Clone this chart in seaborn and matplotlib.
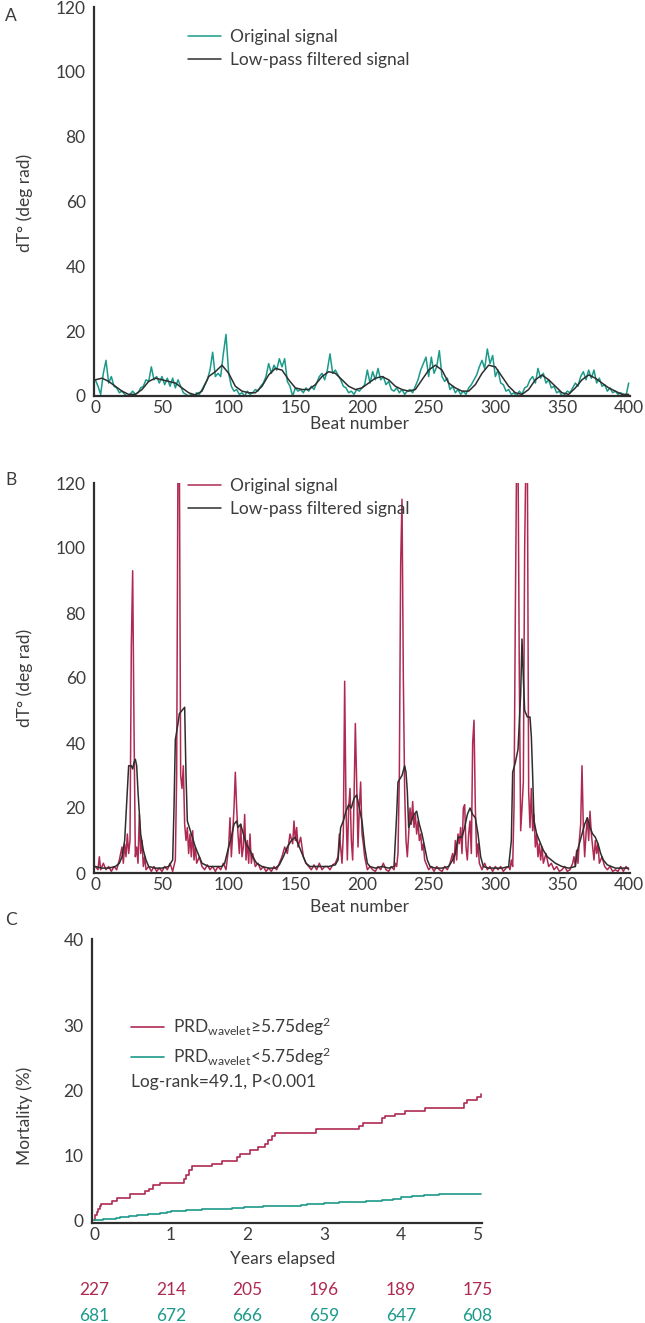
import matplotlib
matplotlib.use('Agg')
import numpy as np
import pandas as pd
import seaborn as sns
import matplotlib.pyplot as plt
from matplotlib.transforms import blended_transform_factory

# ---- panel A : original + low-pass signal (beats every 2 / every 5)
a_beats = np.arange(0, 401, 2)
a_orig = [5, 3, 0.5, 7, 11, 4, 6, 3, 2.5, 1, 1.5, 0.5, 0, 0.5, 1.5, 0.5, 1, 2.5, 3, 5,
          4.5, 9, 5, 6, 4, 6, 3.5, 5.5, 3, 5.5, 2.5, 5, 3, 1, 0.5, 0, 0.5, 0, 1, 0.5,
          2, 3.5, 5, 8, 13.5, 6, 7, 6, 13, 19, 7, 3, 1.5, 2, 0.5, 1, 0, 1.5, 0.5, 1,
          2, 1.5, 3, 4, 6, 10, 7, 9.5, 8, 11.5, 9, 11.5, 4.5, 3, 0, 2.5, 1.5, 2, 1, 2.5,
          1.5, 3, 2, 4, 6, 7, 5, 8, 13, 7, 8, 6.5, 5, 3, 2.5, 1, 1.5, 0.5, 2, 1.5,
          2.5, 3.5, 8, 4, 7.5, 5, 8.5, 5, 6, 3.5, 4.5, 2, 1.5, 2.5, 1, 2, 0.5, 1.5, 2, 1,
          3, 5, 8, 10, 12, 6, 12, 7, 9, 14, 6, 4.5, 5.5, 2, 3, 1, 2, 0.5, 1.5, 0.5,
          2.5, 3.5, 5, 6.5, 9, 11, 8.5, 14.5, 10, 12.5, 6, 8, 4, 3.5, 1.5, 2, 0.5, 1, 0, 1.5,
          0.5, 2.5, 3, 5, 6, 4, 8.5, 5.5, 7, 4, 5, 2.5, 3, 1, 1.5, 0, 0.5, 1.5, 1, 2.5,
          4, 3, 6, 7.5, 5, 8, 5.5, 8, 4, 5.5, 3, 3.5, 1.5, 2.5, 1, 1.5, 0.5, 1, 0.5, 0,
          4]
a_lp_beats = np.arange(0, 401, 5)
a_lp = [5, 5.5, 4.5, 3, 1.5, 0.5, 0.5, 2, 4.5, 5.5, 5, 4.5, 4, 2.5, 1, 0.3, 1.5, 6, 7.5, 9.5,
        7, 3, 1.5, 1, 1, 3, 6.5, 8.5, 8, 5, 2.5, 2, 2, 3.5, 6, 7.5, 7, 5, 3, 2,
        2.5, 4, 5.5, 6, 5, 3, 2, 1.5, 2, 5, 8, 9.5, 8, 4, 2.5, 1.5, 1.5, 3.5, 7, 9.5,
        9, 6, 3, 1, 0.5, 2, 5, 6.5, 5, 3, 1, 0.5, 2.5, 5, 6.5, 5.5, 4, 2.5, 1.5, 0.5,
        0.5]

# ---- panel B
b_beats = [0, 2, 3, 4, 6, 8, 10, 12, 14, 16, 18, 20, 21, 22, 23, 24, 25, 26, 27, 28,
           29, 30, 31, 32, 33, 34, 35, 36, 37, 38, 40, 42, 44, 46, 48, 50, 52, 54, 56, 58,
           60, 61, 62, 63, 64, 65, 66, 67, 68, 69, 70, 71, 72, 73, 74, 75, 76, 78, 80, 82,
           84, 86, 88, 90, 92, 94, 96, 98, 100, 101, 102, 103, 104, 105, 106, 107, 108, 109, 110, 111,
           112, 113, 114, 115, 116, 117, 118, 120, 122, 124, 126, 128, 130, 132, 134, 136, 138, 140, 142, 144,
           146, 148, 149, 150, 151, 152, 154, 156, 158, 160, 162, 164, 166, 168, 170, 172, 174, 176, 178, 180,
           182, 183, 184, 185, 186, 187, 188, 189, 190, 191, 192, 193, 194, 195, 196, 197, 198, 199, 200, 201,
           202, 203, 204, 206, 208, 210, 212, 214, 216, 218, 220, 222, 224, 225, 226, 227, 228, 229, 230, 231,
           232, 233, 234, 235, 236, 237, 238, 239, 240, 241, 242, 243, 244, 245, 246, 247, 248, 250, 252, 254,
           256, 258, 260, 262, 264, 266, 268, 269, 270, 271, 272, 273, 274, 275, 276, 277, 278, 279, 280, 281,
           282, 283, 284, 285, 286, 287, 288, 290, 292, 294, 296, 298, 300, 302, 304, 306, 308, 310, 311, 312,
           313, 314, 315, 316, 317, 318, 319, 320, 321, 322, 323, 324, 325, 326, 327, 328, 329, 330, 331, 332,
           333, 334, 335, 336, 338, 340, 342, 344, 346, 348, 350, 352, 354, 356, 358, 359, 360, 361, 362, 363,
           364, 365, 366, 367, 368, 369, 370, 371, 372, 373, 374, 375, 376, 377, 378, 380, 382, 384, 386, 388,
           390, 392, 394, 396, 398, 400]
b_orig = [2, 1, 5, 1, 3, 1, 2, 0.5, 2, 1, 4, 8, 3, 9, 5, 12, 6, 10, 70, 93,
          45, 5, 8, 3, 18, 6, 10, 2, 5, 1, 2, 0.5, 2, 0.5, 1.5, 0.5, 2, 1, 3, 0.5,
          4, 30, 130, 130, 30, 26, 33, 15, 10, 14, 6, 12, 5, 13, 4, 8, 3, 5, 2, 1,
          2.5, 1, 2, 0.5, 2, 1, 3, 1, 8, 17, 5, 12, 20, 31, 20, 12, 6, 15, 5, 8,
          18, 4, 10, 3, 12, 3, 6, 2, 3, 1, 2, 0.5, 1.5, 0.5, 2, 1, 3, 5, 8, 6,
          12, 9, 16, 10, 14, 8, 11, 5, 3, 2, 1, 2.5, 1, 3, 1, 2, 2, 1, 2.5, 3,
          5, 12, 8, 3, 12, 59, 20, 4, 20, 26, 10, 4, 22, 46, 28, 8, 20, 28, 12, 9,
          5, 3, 1, 2, 1, 0.5, 2, 1, 3, 1, 0.5, 2, 1, 3, 2, 6, 30, 95, 115, 60,
          25, 10, 5, 12, 20, 15, 22, 14, 18, 12, 16, 10, 12, 7, 9, 4, 3, 1, 2, 0.5,
          2, 1, 0.5, 2, 1, 3, 6, 3, 10, 4, 12, 9, 14, 6, 20, 21, 8, 4, 12, 16,
          6, 40, 47, 20, 5, 9, 3, 1, 3, 1, 2, 0.5, 2, 1, 2, 0.5, 1.5, 2, 1, 4,
          2, 20, 80, 130, 130, 60, 13, 20, 28, 100, 130, 130, 25, 14, 26, 13, 18, 8, 12, 5,
          9, 4, 8, 3, 6, 2, 3, 1, 2, 0.5, 1, 2, 0.5, 1, 3, 5, 2, 7, 3, 10,
          15, 33, 14, 5, 12, 17, 10, 19, 12, 8, 4, 10, 6, 9, 3, 5, 2, 1, 2, 0.5,
          1, 0.5, 2, 0.5, 2, 1]
b_lp_beats = [0, 5, 10, 15, 18, 20, 22, 24, 25, 27, 28, 29, 30, 31, 32, 34, 36, 38, 40, 45,
              50, 55, 58, 59, 60, 62, 63, 65, 67, 68, 69, 72, 75, 78, 80, 85, 90, 95, 97, 100,
              102, 104, 106, 107, 109, 111, 113, 116, 118, 121, 125, 130, 135, 138, 141, 144, 147, 150, 153, 156,
              158, 161, 165, 170, 175, 180, 182, 184, 186, 188, 190, 192, 194, 196, 198, 200, 202, 204, 206, 210,
              215, 220, 224, 226, 227, 230, 232, 233, 234, 235, 237, 239, 241, 243, 245, 247, 249, 251, 255, 260,
              265, 268, 270, 272, 275, 277, 279, 281, 283, 285, 287, 289, 291, 295, 300, 305, 310, 312, 313, 315,
              317, 319, 320, 321, 322, 324, 326, 327, 328, 329, 331, 333, 336, 339, 342, 345, 350, 355, 360, 361,
              363, 365, 367, 369, 371, 373, 375, 377, 379, 381, 384, 390, 395, 400]
b_lp = [2, 1.5, 1.5, 2, 3, 5, 10, 25, 33, 33, 32, 34, 35, 33, 25, 12, 7, 4, 2, 1.5,
        1.5, 2, 4, 20, 41, 46, 49, 50, 51, 30, 16, 12, 8, 5, 3, 2, 2, 2, 3, 8,
        11, 15, 16, 14, 15, 12, 9, 7, 5, 3, 2, 1.5, 1.5, 2.5, 5, 8, 10, 11, 8, 5,
        3, 2, 2, 2, 2, 2.5, 4, 14, 16, 19, 21, 20, 23, 24, 20, 16, 8, 3, 2, 1.5,
        2, 1.5, 2, 18, 28, 30, 33, 31, 25, 14, 16, 18, 19, 15, 12, 8, 4, 2, 1.5, 1.5,
        2, 4, 6, 11, 11, 14, 18, 20, 18, 17, 12, 5, 2, 1.5, 1.5, 1.5, 2, 10, 31, 34,
        38, 55, 72, 60, 50, 48, 48, 42, 30, 16, 12, 10, 7, 5, 4, 3, 2, 1.5, 2, 6,
        9, 12, 15, 17, 14, 12, 11, 9, 6, 4, 2.5, 1.5, 1.5, 1.5]

# ---- panel C : Kaplan-Meier mortality
km_hi_years = [0, 0.01, 0.03, 0.05, 0.07, 0.09, 0.23, 0.30, 0.47, 0.66, 0.71, 0.76, 0.86, 1.17, 1.20,
               1.23, 1.27, 1.53, 1.67, 1.86, 1.90, 2.03, 2.14, 2.23, 2.27, 2.32, 2.36, 2.90, 3.45, 3.51,
               3.75, 3.80, 3.93, 4.06, 4.32, 4.82, 4.87, 4.99, 5.05]
km_hi = [0, 0.8, 1.3, 1.8, 2.2, 2.6, 3.0, 3.5, 4.0, 4.55, 4.9, 5.4, 5.8, 6.4, 7.0,
         7.7, 8.4, 8.7, 9.2, 9.7, 10.2, 10.8, 11.3, 11.8, 12.3, 13.0, 13.5, 14.0, 14.6, 15.0,
         15.7, 16.1, 16.4, 16.8, 17.3, 18.0, 18.5, 19.0, 19.5]
km_lo_years = [0, 0.05, 0.12, 0.2, 0.28, 0.34, 0.45, 0.56, 0.7, 0.86, 0.95, 1.0, 1.2, 1.4, 1.6,
               1.8, 1.95, 2.2, 2.45, 2.7, 2.77, 3.0, 3.2, 3.4, 3.55, 3.75, 3.9, 4.0, 4.15, 4.3,
               4.5, 5.05]
km_lo = [0, 0.05, 0.15, 0.25, 0.35, 0.5, 0.65, 0.85, 0.95, 1.1, 1.3, 1.5, 1.6, 1.7, 1.8,
         1.9, 2.05, 2.15, 2.25, 2.35, 2.6, 2.7, 2.8, 2.9, 3.05, 3.15, 3.35, 3.6, 3.75, 3.9,
         4.05, 4.1]
risk_years = [0, 1, 2, 3, 4, 5]
risk_hi = [227, 214, 205, 196, 189, 175]
risk_lo = [681, 672, 666, 659, 647, 608]

TEAL = '#1b9a8a'
RED = '#ae2a52'
DARK = '#2e2e2e'
TXT = '#3c3c3c'

sns.set_style('white')
plt.rcParams['font.family'] = ['Lato', 'DejaVu Sans']
plt.rcParams['mathtext.default'] = 'regular'
plt.rcParams['font.size'] = 12.5
plt.rcParams['text.color'] = TXT

W, H = 645, 1323
fig = plt.figure(figsize=(W / 100, H / 100), dpi=100)


def fx(x):
    return x / W


def fy(y):
    return 1 - y / H


def box(l, t, r, b):
    return [fx(l), fy(b), fx(r) - fx(l), fy(t) - fy(b)]


def style(ax):
    sns.despine(ax=ax)
    for s in ['left', 'bottom']:
        ax.spines[s].set_linewidth(1.6)
        ax.spines[s].set_color(DARK)
    ax.tick_params(length=0, labelsize=12.5, labelcolor=TXT)
    ax.tick_params(axis='y', pad=6)
    ax.tick_params(axis='x', pad=3)
    ax.set_xlabel('')
    ax.set_ylabel('')


def legend(ax, x, y):
    ax.legend(frameon=False, loc='upper left', bbox_to_anchor=(fx(x), fy(y)),
              bbox_transform=fig.transFigure, borderaxespad=0, borderpad=0,
              handlelength=1.9, handletextpad=0.5, labelspacing=0.42, fontsize=12.5)


# panel A
axA = fig.add_axes(box(94, 7, 630, 396))
sns.lineplot(x=a_beats, y=a_orig, color=TEAL, lw=1.1, label='Original signal', ax=axA)
sns.lineplot(x=a_lp_beats, y=a_lp, color=DARK, lw=1.1, label='Low-pass filtered signal', ax=axA)
axA.set_xlim(-1, 401)
axA.set_ylim(0, 120)
axA.set_xticks(range(0, 401, 50))
axA.set_yticks(range(0, 121, 20))
style(axA)
legend(axA, 188, 29)
fig.text(fx(360), fy(424), 'Beat number', ha='center', va='center')
fig.text(fx(25), fy(203), 'dT° (deg rad)', rotation=90, ha='center', va='center')
fig.text(fx(11), fy(16), 'A', ha='center', va='center')

# panel B
axB = fig.add_axes(box(94, 483, 630, 873))
sns.lineplot(x=b_beats, y=b_orig, color=RED, lw=1.1, label='Original signal', ax=axB)
sns.lineplot(x=b_lp_beats, y=b_lp, color=DARK, lw=1.1, label='Low-pass filtered signal', ax=axB)
axB.set_xlim(-1, 401)
axB.set_ylim(0, 120)
axB.set_xticks(range(0, 401, 50))
axB.set_yticks(range(0, 121, 20))
style(axB)
legend(axB, 188, 478)
fig.text(fx(360), fy(907), 'Beat number', ha='center', va='center')
fig.text(fx(25), fy(678), 'dT° (deg rad)', rotation=90, ha='center', va='center')
fig.text(fx(11), fy(480), 'B', ha='center', va='center')

# panel C
axC = fig.add_axes(box(92, 939, 482, 1223))
sns.lineplot(x=km_hi_years, y=km_hi, color=RED, lw=1.2, drawstyle='steps-post',
             label=r'PRD$_{wavelet}$≥5.75deg$^{2}$', ax=axC)
sns.lineplot(x=km_lo_years, y=km_lo, color=TEAL, lw=1.2, drawstyle='steps-post',
             label=r'PRD$_{wavelet}$<5.75deg$^{2}$', ax=axC)
axC.set_xlim(-0.03, 5.06)
axC.set_ylim(-0.4, 43.3)
axC.set_xticks(risk_years)
axC.set_yticks([0, 10, 20, 30, 43.3])
axC.set_yticklabels(['0', '10', '20', '30', '40'])
style(axC)
legend(axC, 131, 1016)
fig.text(fx(131), fy(1082), 'Log-rank=49.1, P<0.001', ha='left', va='center')
fig.text(fx(283), fy(1259), 'Years elapsed', ha='center', va='center')
fig.text(fx(25), fy(1116), 'Mortality (%)', rotation=90, ha='center', va='center')
fig.text(fx(11), fy(920), 'C', ha='center', va='center')

tr = blended_transform_factory(axC.transData, fig.transFigure)
for yr, h, l in zip(risk_years, risk_hi, risk_lo):
    axC.text(yr, fy(1290), str(h), color=RED, ha='center', va='center', transform=tr)
    axC.text(yr, fy(1316), str(l), color=TEAL, ha='center', va='center', transform=tr)

fig.savefig('out.png', dpi=100)
